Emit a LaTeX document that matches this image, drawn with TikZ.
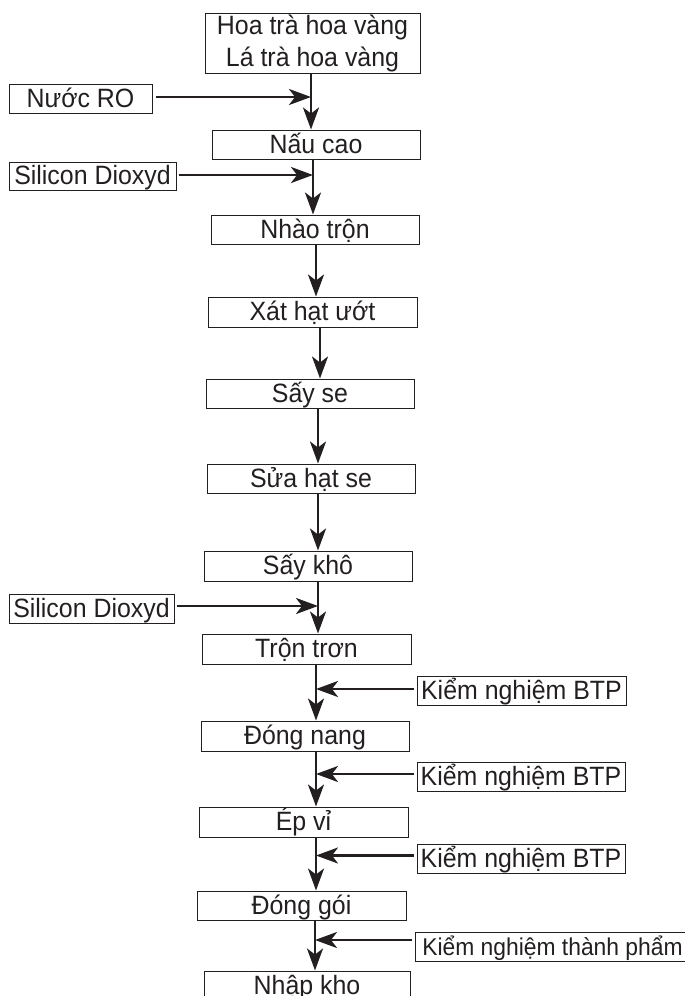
\documentclass[tikz,border=0pt]{standalone}
\usepackage{fontspec}
\setmainfont{Liberation Sans}[FakeStretch=0.94]
\usetikzlibrary{arrows.meta}
\definecolor{ink}{HTML}{231F20}
\begin{document}
\begin{tikzpicture}[x=1pt,y=-1pt,
  box/.style={draw=ink, line width=1pt, rectangle, inner sep=0pt, text=ink,
    font=\fontsize{26.5}{32}\selectfont, text height=18.5pt, text depth=1.5pt},
  arr/.style={draw=ink, line width=2.6pt,
    -{Stealth[length=22pt,width=16pt,inset=6pt]}}]
\useasboundingbox (0,0) rectangle (685,996);

\node[box, minimum width=215pt, minimum height=60pt, align=center,
  text height=, text depth=] (top) at (312.5,43) {\raisebox{-2pt}{Hoa trà hoa vàng}\\\raisebox{-2pt}{Lá trà hoa vàng}};
\node[box, minimum width=143pt, minimum height=29pt] (ro) at (80.5,98.5) {Nước RO};
\node[box, minimum width=208pt, minimum height=29pt] (nau) at (316,144.5) {Nấu cao};
\node[box, minimum width=167pt, minimum height=28pt] (sd1) at (92.5,176) {Silicon Dioxyd};
\node[box, minimum width=208pt, minimum height=29pt] (nhao) at (315,229.5) {Nhào trộn};
\node[box, minimum width=209pt, minimum height=30pt] (xat) at (312.5,312) {Xát hạt ướt};
\node[box, minimum width=208pt, minimum height=29pt] (sayse) at (310,393.5) {Sấy se};
\node[box, minimum width=208pt, minimum height=29pt] (sua) at (311,478.5) {Sửa hạt se};
\node[box, minimum width=208pt, minimum height=30pt] (saykho) at (308,566) {Sấy khô};
\node[box, minimum width=165pt, minimum height=29pt] (sd2) at (91.5,608.5) {Silicon Dioxyd};
\node[box, minimum width=209pt, minimum height=30pt] (tron) at (306.5,649) {Trộn trơn};
\node[box, minimum width=209pt, minimum height=29pt] (kn1) at (521.5,690.5) {Kiểm nghiệm BTP};
\node[box, minimum width=208pt, minimum height=30pt] (dong) at (305,736) {Đóng nang};
\node[box, minimum width=208pt, minimum height=29pt] (kn2) at (521,776.5) {Kiểm nghiệm BTP};
\node[box, minimum width=209pt, minimum height=30pt] (ep) at (303.5,822) {Ép vỉ};
\node[box, minimum width=208pt, minimum height=29pt] (kn3) at (521,858.5) {Kiểm nghiệm BTP};
\node[box, minimum width=209pt, minimum height=29pt] (goi) at (301.5,905.5) {Đóng gói};
\node[box, minimum width=275pt, minimum height=29pt, font=\fontsize{24.3}{29}\selectfont] (kntp) at (552.5,946.5) {Kiểm nghiệm thành phẩm};
\node[box, minimum width=206pt, minimum height=30pt] (nhap) at (307,986) {Nhập kho};

% main flow
\draw[arr] (top.south -| 311,0) -- (nau.north -| 311,0);
\draw[arr] (nau.south -| 313,0) -- (nhao.north -| 313,0);
\draw[arr] (nhao.south -| 316,0) -- (xat.north -| 316,0);
\draw[arr] (xat.south -| 320,0) -- (sayse.north -| 320,0);
\draw[arr] (sayse.south -| 318,0) -- (sua.north -| 318,0);
\draw[arr] (sua.south -| 318,0) -- (saykho.north -| 318,0);
\draw[arr] (saykho.south -| 318,0) -- (tron.north -| 318,0);
\draw[arr] (tron.south -| 316,0) -- (dong.north -| 316,0);
\draw[arr] (dong.south -| 316,0) -- (ep.north -| 316,0);
\draw[arr] (ep.south -| 316,0) -- (goi.north -| 316,0);
\draw[arr] (goi.south -| 315,0) -- (nhap.north -| 315,0);

% side inputs
\draw[arr, shorten <=3pt] ([yshift=1.5pt]ro.east) -- ([yshift=1.5pt]ro.east -| 311,0);
\draw[arr, shorten <=2pt] ([yshift=1pt]sd1.east) -- ([yshift=1pt]sd1.east -| 313,0);
\draw[arr, shorten <=2pt] ([yshift=2.5pt]sd2.east) -- ([yshift=2.5pt]sd2.east -| 318,0);
\draw[arr, shorten <=3pt] ([yshift=1.5pt]kn1.west) -- ([yshift=1.5pt]kn1.west -| 316,0);
\draw[arr, shorten <=3pt] ([yshift=2.5pt]kn2.west) -- ([yshift=2.5pt]kn2.west -| 316,0);
\draw[arr, shorten <=3pt] ([yshift=3pt]kn3.west) -- ([yshift=3pt]kn3.west -| 316,0);
\draw[arr, shorten <=3pt] ([yshift=6.5pt]kntp.west) -- ([yshift=6.5pt]kntp.west -| 315,0);
\end{tikzpicture}
\end{document}
